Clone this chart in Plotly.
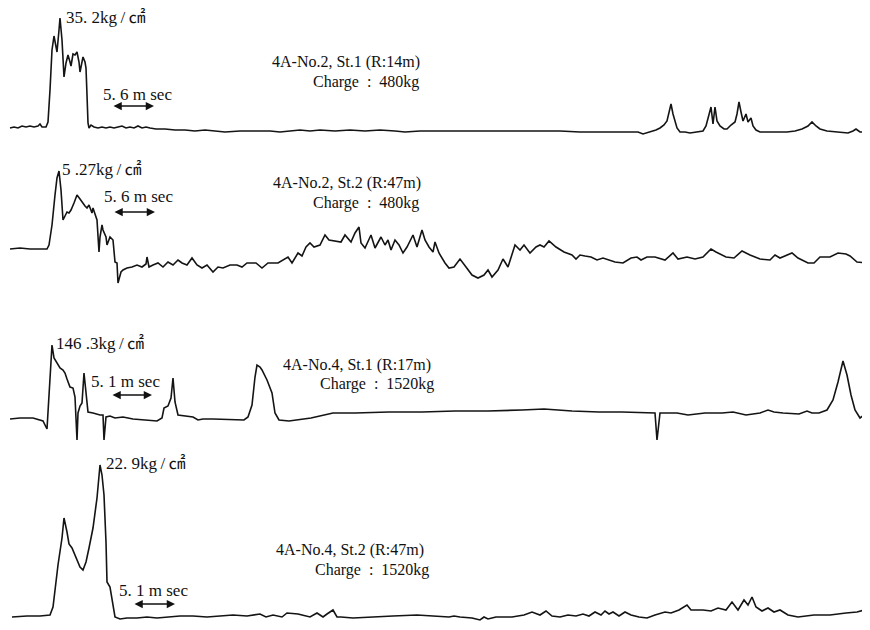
import plotly.graph_objects as go

# ---- Trace 1 : 4A-No.2, St.1 (R:14m), charge 480kg ----
t1 = [10,14,18,22,26,30,34,38,40,42, 46,48,50,52,54,56,57,59,60,62,
      64,66,68,70,71,73,75,77,79,80, 82,83,85,86,87,88,89,91,94,98,
      102,106,110,114,118,122,126,130,134,138, 142,146,150,156,165,175,185,195,205,215,
      225,240,255,270,280,290,300,310,320,335, 350,365,380,395,405,420,440,460,480,500,
      520,540,560,580,600,620,638,643,650,656, 660,664,667,669,671,673,675,677,680,685,
      690,697,703,706,709,711,713,715,717,720, 724,727,731,735,737,739,741,743,746,748,
      751,753,756,760,770,787,795,802,808,812, 816,820,827,840,848,853,856,860,868]
p1 = [-1,0,-1,1,0,1,0,1,3,0, 0,5,37,77,91,82,75,97,109,87,
      50,64,72,65,61,73,72,75,65,55, 67,70,65,59,32,4,-1,2,0,-1,
      0,-1,0,-1,0,1,-1,0,-1,1, -1,0,-1,-2,-2,-3,-3,-4,-3,-4,
      -5,-4,-4,-4,-5,-4,-3,-4,-3,-4, -3,-4,-3,-4,-5,-4,-4,-4,-4,-4,
      -4,-4,-4,-5,-5,-5,-5,-7,-5,-3, -1,2,6,15,23,13,5,-1,-5,-5,
      -6,-5,-4,1,14,20,3,20,6,1, -2,-2,2,5,13,25,15,6,13,5,
      9,1,-3,-5,-5,-5,-4,-2,1,5, 1,-2,-4,-5,-6,-4,-2,-5,-5]

# ---- Trace 2 : 4A-No.2, St.2 (R:47m), charge 480kg ----
t2 = [10,20,30,40,47,49,52,55,57,59, 61,63,65,67,69,71,74,77,80,82,
      85,87,89,92,93,95,97,99,100,102, 103,106,107,110,113,115,117,118,121,123,
      127,132,137,142,146,147,149,153,158,163, 168,173,178,182,187,192,197,202,207,213,
      218,223,230,237,242,247,256,262,268,278, 288,292,298,302,306,310,314,320,325,329,
      341,345,351,355,359,361,365,371,375,381, 385,388,391,395,399,403,407,413,417,422,
      425,429,433,435,439,445,449,454,460,466, 472,478,484,488,492,498,503,508,515,520,
      524,530,536,540,544,549,556,564,572,576, 580,585,591,597,603,615,623,631,637,641,
      647,655,665,673,678,687,695,703,711,716, 726,734,742,750,760,770,775,780,792,798,
      808,814,820,830,838,846,850,857,868]
p2 = [0,1,0,0,0,4,24,54,71,78, 59,29,34,37,36,39,46,54,50,47,
      43,41,44,36,41,35,29,-3,12,24, 19,12,4,12,9,-13,-14,-34,-23,-21,
      -19,-18,-16,-18,-15,-8,-18,-16,-14,-18, -13,-16,-11,-14,-16,-9,-16,-19,-16,-23,
      -18,-19,-16,-16,-18,-14,-14,-19,-14,-14, -8,-14,-4,-7,2,6,2,4,14,9,
      7,14,7,16,22,6,1,14,1,12, 4,9,-1,9,4,-4,2,14,2,19,
      9,2,-3,7,-4,-14,-19,-18,-10,-18, -26,-29,-26,-21,-28,-21,-10,-18,4,-1,
      4,-4,2,4,2,8,2,-3,-6,-10, -6,-7,-8,-11,-9,-13,-14,-9,-8,-11,
      -8,-8,-11,-4,-10,-8,-10,-8,0,-3, -8,-9,-2,-6,-10,-11,-6,-9,-4,-9,
      -14,-14,-8,-8,-4,-5,-7,-13,-14]

# ---- Trace 3 : 4A-No.4, St.1 (R:17m), charge 1520kg ----
t3 = [10,20,33,43,47,49,52,54,57,60, 63,65,67,70,73,75,77,78,80,82,
      84,86,88,93,100,103,104,106,110,115, 123,133,147,157,162,164,168,171,173,175,
      178,187,193,198,203,213,233,244,248,252, 255,257,260,262,267,272,275,279,289,311,
      333,355,389,422,455,488,522,544,572,599, 622,644,655,657,660,677,688,705,722,733,
      746,760,768,774,783,799,807,812,819,827, 833,838,843,847,851,855,860,864,868]
p3 = [0,1,1,-2,-10,22,74,61,56,51, 49,46,40,32,31,22,-21,6,13,16,
      46,29,7,6,4,4,-21,2,3,1, 2,0,-1,-2,1,11,13,21,41,17,
      4,3,2,-1,0,0,-1,-1,2,14, 42,54,52,49,39,26,6,-1,-2,1,
      6,6,7,7,8,8,9,10,8,7, 7,6,6,-21,6,6,4,6,6,7,
      4,6,9,7,6,5,8,6,6,9, 19,37,58,44,24,9,1,4,7]

# ---- Trace 4 : 4A-No.4, St.2 (R:47m), charge 1520kg ----
t4 = [12,27,40,50,53,58,62,64,67,69, 72,76,80,83,86,89,93,97,99,100,
      102,104,106,107,110,113,115,120,127,137, 147,157,167,180,193,207,220,233,247,260,
      266,273,282,287,298,310,317,323,327,333, 337,341,353,369,393,417,437,449,454,460,
      472,480,484,488,496,512,524,532,540,546, 552,560,568,576,583,589,595,601,605,609,
      613,619,625,631,639,647,655,665,671,679, 687,691,703,711,718,726,732,738,744,748,
      752,756,762,768,774,780,788,798,814,830, 846,857,868]
p4 = [0,1,1,2,10,52,79,99,85,73, 69,59,50,47,55,69,89,119,137,152,
      142,122,75,35,30,12,0,-2,-1,-1, 0,-1,0,1,1,0,1,2,1,3,
      0,2,0,4,3,0,4,0,3,7, 0,0,-1,0,1,2,1,0,1,0,
      -1,-3,0,-2,0,0,2,5,2,6, 1,0,2,1,3,1,5,2,6,3,
      5,1,5,2,0,-1,2,5,4,7, 12,7,7,6,9,7,15,7,17,12,
      20,10,6,9,5,7,2,0,2,2, 4,5,8]

peak_labels = ["35. 2kg\u2009/\u2009㎠", "5 .27kg\u2009/\u2009㎠",
               "146 .3kg\u2009/\u2009㎠", "22. 9kg\u2009/\u2009㎠"]
titles = ["4A-No.2, St.1 (R:14m)", "4A-No.2, St.2 (R:47m)",
          "4A-No.4, St.1 (R:17m)", "4A-No.4, St.2 (R:47m)"]
charges = ["Charge  :  480kg", "Charge  :  480kg",
           "Charge  :  1520kg", "Charge  :  1520kg"]
time_marks = ["5. 6 m sec", "5. 6 m sec", "5. 1 m sec", "5. 1 m sec"]

W, H = 870, 630
OFF = 8  # page body margin of the html page
series = [(t1, p1), (t2, p2), (t3, p3), (t4, p4)]
baselines = [127, 249, 419, 617]   # vertical placement of each record row (page px)

fig = go.Figure()
for i, (t, p) in enumerate(series):
    fig.add_trace(go.Scatter(
        x=t, y=p, mode="lines",
        line=dict(color="#141414", width=1.6),
        yaxis="y" if i == 0 else f"y{i+1}",
        showlegend=False, hoverinfo="skip"))

layout_axes = {}
for i, b in enumerate(baselines):
    key = "yaxis" if i == 0 else f"yaxis{i+1}"
    ax = dict(range=[b - OFF - H, b - OFF], visible=False, fixedrange=True)
    if i > 0:
        ax["overlaying"] = "y"
    layout_axes[key] = ax


def P(x, y):
    return (x - OFF) / W, 1 - (y - OFF) / H


SERIF = "Liberation Serif, 'Noto Serif', 'Noto Sans CJK JP', serif"
F_TITLE = dict(family=SERIF, size=16, color="#111111")
F_LABEL = dict(family=SERIF, size=17, color="#111111")
F_MARK = dict(family=SERIF, size=17, color="#111111")

ann = []
label_pos = [(64, 18), (60, 170), (54, 343), (104, 463)]
title_pos = [(270, 62), (271, 183), (281, 365), (274, 550)]
charge_pos = [(311, 82), (311, 203), (318, 384), (313, 570)]
mark_pos = [(101, 95), (102, 196), (89, 381), (117, 590)]
arrow_pos = [(112, 154, 106), (113, 155, 212), (111, 152, 395), (133, 175, 604)]

for i in range(4):
    for txt, (x, y), f in ((peak_labels[i], label_pos[i], F_LABEL),
                           (titles[i], title_pos[i], F_TITLE),
                           (charges[i], charge_pos[i], F_TITLE),
                           (time_marks[i], mark_pos[i], F_MARK)):
        px, py = P(x, y)
        ann.append(dict(x=px, y=py, xref="paper", yref="paper", text=txt,
                        showarrow=False, xanchor="left", yanchor="middle", font=f))
    x0, x1, y = arrow_pos[i]
    hx, hy = P(x1, y)
    ann.append(dict(x=hx, y=hy, xref="paper", yref="paper", text="",
                    showarrow=True, ax=-(x1 - x0), ay=0, axref="pixel", ayref="pixel",
                    arrowhead=2, arrowsize=1.1, arrowwidth=1.5, arrowside="end+start",
                    arrowcolor="#111111", standoff=0, startstandoff=0))

fig.update_layout(
    width=W, height=H,
    margin=dict(l=0, r=0, t=0, b=0),
    paper_bgcolor="white", plot_bgcolor="white",
    xaxis=dict(range=[OFF, W + OFF], visible=False, fixedrange=True),
    annotations=ann,
    **layout_axes)

fig.write_html("out.html")
